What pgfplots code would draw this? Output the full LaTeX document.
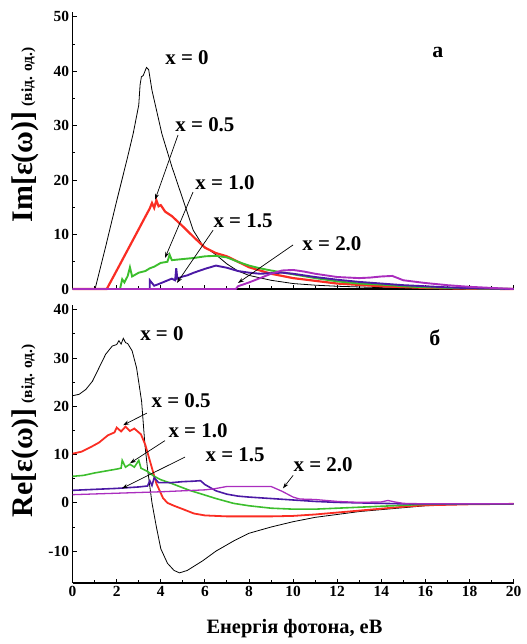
\documentclass[border=0pt]{standalone}
\usepackage{fontspec}
\setmainfont{Liberation Serif}
\usepackage{pgfplots}
\pgfplotsset{compat=1.18}
\usetikzlibrary{arrows.meta}
\definecolor{cred}{RGB}{250,45,35}
\definecolor{cgreen}{RGB}{60,190,45}
\definecolor{cblue}{RGB}{75,25,165}
\definecolor{cmag}{RGB}{170,45,190}
\pgfplotsset{
  panel/.style={
    scale only axis, width=441bp,
    xmin=0, xmax=20,
    axis x line=bottom, axis y line=left,
    axis line style={-, line width=1.3pt},
    tick align=inside,
    xtick={0,2,...,20}, minor x tick num=1, minor y tick num=1,
    major tick length=4bp, minor tick length=2.5bp,
    tick style={line width=1pt, black},
    tick label style={font=\fontsize{15.5}{16}\selectfont\bfseries},
    /pgf/number format/assume math mode=true,
    clip=false,
  },
}
\tikzset{
  lbl/.style={font=\fontsize{21}{22}\selectfont\bfseries},
  arr/.style={-{Stealth[length=6bp,width=4bp]}, line width=0.7pt},
}
\begin{document}
\begin{tikzpicture}[x=1bp,y=1bp]
\useasboundingbox (0,0) rectangle (527,644);
% ---------------- top panel: Im ----------------
\begin{axis}[panel, at={(72.6bp,355bp)}, anchor=south west, height=277bp,
  ymin=0, ymax=50.9, ytick={0,10,...,50}, xticklabels={}]
\addplot[black, line width=0.8pt] coordinates {
(0,0)(1.02,0)(1.5,7.8)(2.0,16.2)(2.45,23.5)(2.75,28.6)(3.0,33.8)(3.06,37.5)(3.12,39.0)(3.2,39.2)(3.35,40.7)(3.45,40.3)(3.6,36.5)(4.05,28.5)(4.5,22.5)(5.0,16.5)(5.47,10.8)(5.9,8.0)(6.5,6.3)(7,4.6)(7.5,3.3)(8,2.5)(9,1.6)(10,1.0)(11,0.7)(12,0.5)(14,0.25)(16,0.1)(18,0.05)(20,0)};
\addplot[cred, line width=2.2pt] coordinates {
(0,0)(1.55,0)(2.0,3.4)(2.5,7.2)(3.0,11)(3.3,13.3)(3.5,14.8)(3.6,15.8)(3.7,14.9)(3.8,16.3)(3.9,15.2)(4.0,15.4)(4.2,14.2)(4.5,13.4)(5.0,11.5)(5.5,9.5)(6.0,7.6)(6.5,6.6)(7.0,6.0)(7.5,5.0)(8,4.0)(9,2.8)(10,2.0)(11,1.5)(12,1.0)(14,0.5)(16,0.2)(18,0.05)(20,0)};
\addplot[cgreen, line width=1.9pt] coordinates {
(0,0)(2.15,0)(2.25,1.8)(2.35,1.2)(2.5,2.4)(2.6,4.0)(2.7,2.3)(3.0,3.0)(3.3,3.3)(3.5,3.8)(3.7,4.1)(4.0,4.8)(4.3,5.0)(4.4,6.3)(4.5,5.3)(5.0,5.5)(5.5,5.7)(6.0,6.0)(6.5,6.1)(7.0,5.8)(7.5,5.0)(8.0,4.3)(8.5,3.8)(9.0,3.4)(10,2.7)(11,2.0)(12,1.4)(13,1.0)(14,0.8)(15,0.5)(16,0.3)(18,0.1)(20,0)};
\addplot[cblue, line width=1.9pt] coordinates {
(0,0)(3.5,0)(3.5,1.6)(3.7,0.6)(3.9,0.9)(4.2,1.4)(4.5,1.9)(4.65,1.6)(4.7,3.8)(4.75,1.9)(5.0,2.3)(5.2,2.5)(5.5,3.0)(6.0,3.7)(6.5,4.3)(7.0,3.9)(7.5,3.3)(8.0,3.0)(8.5,2.8)(9,2.9)(9.5,3.0)(10,2.8)(11,2.2)(12,1.7)(13,1.3)(14,1.0)(15,0.7)(16,0.5)(17,0.3)(18,0.15)(20,0)};
\addplot[cmag, line width=1.9pt] coordinates {
(0,0)(7.4,0)(7.5,0.5)(8,1.2)(8.5,2.0)(9,2.8)(9.5,3.4)(10,3.5)(10.5,3.2)(11,2.8)(12,2.2)(13,2.0)(13.5,2.1)(14,2.3)(14.5,2.4)(15,1.6)(16,1.1)(17,0.7)(18,0.4)(19,0.2)(20,0)};
\node[lbl] at (axis cs:5.19,42.5) {x = 0};
\node[lbl] at (axis cs:6.0,30.1) {x = 0.5};
\node[lbl] at (axis cs:6.91,19.5) {x = 1.0};
\node[lbl] at (axis cs:7.73,12.5) {x = 1.5};
\node[lbl] at (axis cs:11.76,8.3) {x = 2.0};
\draw[arr] (axis cs:4.78,28.3) -- (axis cs:3.74,16.4);
\draw[arr] (axis cs:5.46,17.8) -- (axis cs:4.19,5.7);
\draw[arr] (axis cs:6.37,10.8) -- (axis cs:4.73,1.1);
\draw[arr] (axis cs:10.0,8.1) -- (axis cs:7.5,1.1);
\node[font=\fontsize{22}{22}\selectfont\bfseries] at (axis cs:16.57,43.4) {а};
\end{axis}
% ---------------- bottom panel: Re ----------------
\begin{axis}[panel, at={(72.6bp,61bp)}, anchor=south west, height=278bp,
  ymin=-16.6, ymax=41, ytick={-10,0,...,40}]
\addplot[black, line width=0.8pt] coordinates {
(0,22.2)(0.3,22.5)(0.6,23.5)(0.9,25.2)(1.2,28)(1.5,30.8)(1.8,32.5)(2.0,32.8)(2.1,33.6)(2.2,32.9)(2.3,34.1)(2.4,33.2)(2.5,33.0)(2.7,31.5)(2.9,28)(3.0,25)(3.13,21)(3.28,12)(3.4,7)(3.6,0)(3.8,-5)(4.0,-9.5)(4.3,-12.5)(4.6,-14)(4.85,-14.5)(5.2,-14)(5.9,-12)(6.5,-10)(7.3,-7.9)(8,-6.3)(9,-5)(10,-3.9)(11,-3)(12,-2.4)(13,-1.8)(14,-1.4)(15,-1)(16,-0.6)(17,-0.4)(18,-0.3)(20,-0.2)};
\addplot[cred, line width=1.8pt] coordinates {
(0,10.2)(0.4,10.6)(0.8,11.5)(1.2,12.5)(1.6,14)(1.9,14.6)(2.0,15.6)(2.2,14.8)(2.4,15.8)(2.6,14.9)(2.8,15.4)(3.0,14.6)(3.1,14.2)(3.3,12)(3.5,8.8)(3.8,4)(4.1,1)(4.3,0)(4.6,-0.6)(5.0,-1.3)(5.5,-2.2)(6,-2.6)(7,-2.8)(8,-2.8)(9,-2.8)(10,-2.7)(11,-2.4)(12,-2.0)(13,-1.6)(14,-1.2)(15,-0.8)(16,-0.5)(18,-0.3)(20,-0.2)};
\addplot[cgreen, line width=1.6pt] coordinates {
(0,5.5)(0.5,5.7)(1.0,6.2)(1.5,6.6)(2.0,7.0)(2.2,7.2)(2.25,8.8)(2.4,7.4)(2.6,8.0)(2.8,7.4)(3.0,8.8)(3.1,7.2)(3.4,6.5)(3.7,5.5)(4.0,4.8)(4.5,4.0)(4.9,3.3)(5.3,2.6)(5.8,1.9)(6.5,0.9)(7.3,-0.1)(8,-0.6)(9,-1.1)(10,-1.3)(11,-1.3)(12,-1.1)(13,-0.9)(14,-0.7)(15,-0.5)(16,-0.3)(18,-0.2)(20,-0.2)};
\addplot[cblue, line width=1.6pt] coordinates {
(0,2.6)(1,2.8)(2,3.0)(3,3.3)(3.4,3.5)(3.5,4.6)(3.6,3.6)(3.7,5.2)(3.9,4.2)(4.5,4.2)(5.0,4.4)(5.5,4.5)(5.8,4.6)(6.0,3.8)(6.5,2.5)(7.0,1.8)(7.5,1.4)(8,1.2)(9,0.9)(10,0.6)(11,0.3)(12,0.1)(13,0)(14,-0.1)(15,-0.2)(16,-0.2)(18,-0.2)(20,-0.2)};
\addplot[cmag, line width=1.3pt] coordinates {
(0,1.7)(2,2.0)(4,2.3)(6,2.7)(6.4,2.9)(7.0,3.4)(9.0,3.4)(9.5,2.4)(10.0,1.2)(10.3,0.8)(11,0.7)(12,0.3)(13,0.1)(14,0.2)(14.3,0.5)(14.6,0.2)(15,-0.1)(16,-0.2)(18,-0.2)(20,-0.2)};
\node[lbl] at (axis cs:4.05,35.0) {x = 0};
\node[lbl] at (axis cs:4.92,21.1) {x = 0.5};
\node[lbl] at (axis cs:5.69,14.9) {x = 1.0};
\node[lbl] at (axis cs:7.37,9.9) {x = 1.5};
\node[lbl] at (axis cs:11.36,8.0) {x = 2.0};
\draw[arr] (axis cs:3.37,18.6) -- (axis cs:2.29,16.1);
\draw[arr] (axis cs:4.19,12.9) -- (axis cs:2.6,8.2);
\draw[arr] (axis cs:5.1,9.5) -- (axis cs:2.24,3.0);
\draw[arr] (axis cs:10.0,5.7) -- (axis cs:9.54,3.0);
\node[font=\fontsize{22}{22}\selectfont\bfseries] at (axis cs:16.43,34.3) {б};
\end{axis}
% ---------------- labels ----------------
\node[rotate=90, font=\bfseries] at (25,509) {{\fontsize{30}{30}\selectfont Im[ε(ω)]}\hspace{5bp}{\fontsize{15.5}{16}\selectfont (від. од.)}};
\node[rotate=90, font=\bfseries] at (25,213) {{\fontsize{30}{30}\selectfont Re[ε(ω)]}\hspace{5bp}{\fontsize{15.5}{16}\selectfont (від. од.)}};
\node[font=\fontsize{20.5}{21}\selectfont\bfseries] at (294.5,15) {Енергія фотона, еВ};
\end{tikzpicture}
\end{document}
